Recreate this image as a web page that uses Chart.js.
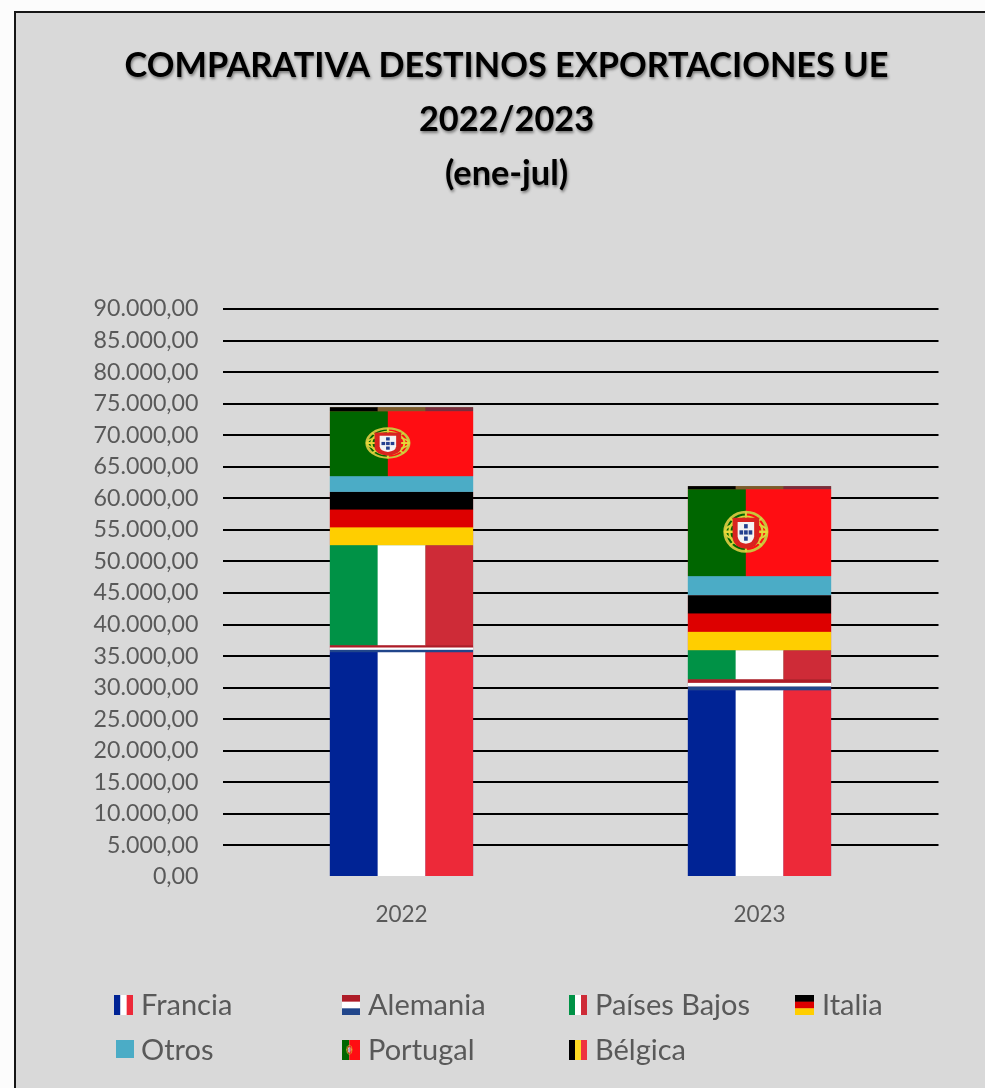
<!DOCTYPE html>
<html><head><meta charset="utf-8">
<style>
html,body{margin:0;padding:0;background:#fcfcfc;overflow:hidden;width:985px;height:1088px}
#frame{position:absolute;left:14px;top:11px;width:1100px;height:1200px;border:2px solid #161616;background:#d9d9d9}
canvas{position:absolute;left:15px;top:13px;filter:blur(0.35px)}
</style>
<script src="https://cdn.jsdelivr.net/npm/chart.js@4"></script>
</head><body><div id="frame"></div><canvas id="c" width="983" height="1075"></canvas>
<script>
const categories = ['2022', '2023'];
const francia = [35630, 29600];
const alemania = [1100, 1740];
const paisesBajos = [15850, 4600];
const italia = [8450, 8710];
const otros = [2480, 3020];
const portugal = [10300, 13780];
const belgica = [620, 480];
const seriesNames = ['Francia', 'Alemania', 'Países Bajos', 'Italia', 'Otros', 'Portugal', 'Bélgica'];
const seriesValues = [francia, alemania, paisesBajos, italia, otros, portugal, belgica];
const seriesFlags = ['fr', 'nl', 'it', 'de', 'solid', 'pt', 'be'];
const baseColors = ['#002395', '#ae1c28', '#009246', '#dd0000', '#4bacc6', '#ff0d12', '#7b5b2b'];
const titleLines = ['COMPARATIVA DESTINOS EXPORTACIONES UE', '2022/2023', '(ene-jul)'];
const FONT = 'Lato, sans-serif';
const fmt = v => v.toLocaleString('es-ES', {minimumFractionDigits: 2, maximumFractionDigits: 2, useGrouping: true}).replace(/^(\d)(\d{3}),/, '$1.$2,');

function vStripes(ctx, x, y, w, h, cols) {
  const n = cols.length;
  cols.forEach((c, i) => { ctx.fillStyle = c; ctx.fillRect(x + w * i / n, y, w / n + (i < n - 1 ? .3 : 0), h); });
}
function hStripes(ctx, x, y, w, h, cols) {
  const n = cols.length;
  cols.forEach((c, i) => { ctx.fillStyle = c; ctx.fillRect(x, y + h * i / n, w, h / n + (i < n - 1 ? .3 : 0)); });
}
function emblem(ctx, cx, cy, rx, ry) {
  ctx.save();
  ctx.translate(cx, cy); ctx.scale(rx, ry);
  ctx.lineWidth = 0.13; ctx.strokeStyle = '#c9c23c';
  ctx.beginPath(); ctx.arc(0, 0, 0.92, 0, 7); ctx.stroke();
  ctx.lineWidth = 0.09; ctx.strokeStyle = '#dcd33a';
  ctx.beginPath(); ctx.ellipse(0, 0, 0.92, 0.42, 0, 0, 7); ctx.stroke();
  ctx.beginPath(); ctx.ellipse(0, 0, 0.72, 0.72, 0, 0, 7); ctx.stroke();
  ctx.beginPath(); ctx.moveTo(0,-0.95); ctx.lineTo(0,0.95); ctx.moveTo(-0.7,-0.65); ctx.lineTo(0.7,0.65); ctx.moveTo(0.7,-0.65); ctx.lineTo(-0.7,0.65); ctx.stroke();
  ctx.fillStyle = '#e8d838';
  ctx.fillRect(-0.95, -0.06, 1.9, 0.12);
  ctx.fillStyle = '#d8231f';
  ctx.beginPath(); ctx.moveTo(-.58,-.66); ctx.lineTo(.58,-.66); ctx.lineTo(.58,.3); ctx.quadraticCurveTo(.52,.74,0,.8); ctx.quadraticCurveTo(-.52,.74,-.58,.3); ctx.closePath(); ctx.fill();
  ctx.fillStyle = '#f4f4f4';
  ctx.beginPath(); ctx.moveTo(-.36,-.46); ctx.lineTo(.36,-.46); ctx.lineTo(.36,.22); ctx.quadraticCurveTo(.33,.52,0,.56); ctx.quadraticCurveTo(-.33,.52,-.36,.22); ctx.closePath(); ctx.fill();
  ctx.fillStyle = '#24408e';
  [[0,-.26],[-.2,.03],[0,.03],[.2,.03],[0,.32]].forEach(p => { ctx.fillRect(p[0]-.08, p[1]-.1, .16, .2); });
  ctx.restore();
}
function drawFlag(ctx, kind, x, y, w, h) {
  if (kind === 'fr') vStripes(ctx, x, y, w, h, ['#002395', '#ffffff', '#ed2939']);
  else if (kind === 'it') vStripes(ctx, x, y, w, h, ['#009246', '#ffffff', '#ce2b37']);
  else if (kind === 'be') vStripes(ctx, x, y, w, h, h < 6 ? ['#000000', '#7b5b2b', '#7a2d3d'] : ['#000000', '#fdda24', '#ef3340']);
  else if (kind === 'nl') hStripes(ctx, x, y, w, h, ['#ae1c28', '#ffffff', '#21468b']);
  else if (kind === 'de') hStripes(ctx, x, y, w, h, ['#000000', '#dd0000', '#ffce00']);
  else if (kind === 'pt') {
    const split = 0.405;
    ctx.fillStyle = '#006600'; ctx.fillRect(x, y, w * split, h);
    ctx.fillStyle = '#ff0d12'; ctx.fillRect(x + w * split, y, w * (1 - split), h);
    emblem(ctx, x + w * split, y + h * 0.49, w * 0.16, h * 0.245);
  } else { ctx.fillStyle = '#4bacc6'; ctx.fillRect(x, y, w, h); }
}
const flagBars = {
  id: 'flagBars',
  afterDatasetsDraw(chart) {
    const ctx = chart.ctx;
    chart.data.datasets.forEach((ds, i) => {
      chart.getDatasetMeta(i).data.forEach(el => {
        const p = el.getProps(['x', 'y', 'base', 'width'], true);
        drawFlag(ctx, seriesFlags[i], p.x - p.width / 2, p.y, p.width, p.base - p.y);
      });
    });
  }
};
const legendRows = [[0, 1, 2, 3], [4, 5, 6]];
const legendCols = [100, 327, 554, 781];
const legendY = [992, 1037];
const flatLegend = {
  id: 'flatLegend',
  afterDraw(chart) {
    const ctx = chart.ctx;
    ctx.save();
    ctx.font = '29px ' + FONT;
    ctx.textBaseline = 'middle';
    legendRows.forEach((row, r) => row.forEach((s, c) => {
      const x = legendCols[c], cy = legendY[r];
      const f = seriesFlags[s];
      const big = (f === 'fr' || f === 'de');
      drawFlag(ctx, f, x - (big ? 1 : 0) + (f === 'solid' ? 1 : 0), cy - 10, big ? 19 : 18, f === 'solid' ? 18 : 20);
      ctx.fillStyle = '#595959';
      ctx.fillText(seriesNames[s], x + 26, cy + 1);
    }));
    ctx.restore();
  }
};
const titleShadow = {
  id: 'titleShadow',
  beforeDraw(chart) {
    const t = chart.titleBlock;
    if (t && !t.__wrapped) {
      const d = t.draw;
      t.draw = function () {
        const ctx = chart.ctx; ctx.save();
        ctx.translate(29.75, 0);
        ctx.shadowColor = 'rgba(0,0,0,0.45)'; ctx.shadowBlur = 3; ctx.shadowOffsetX = 1; ctx.shadowOffsetY = 2;
        d.call(t); ctx.restore();
      };
      t.__wrapped = true;
    }
  }
};
new Chart(document.getElementById('c'), {
  type: 'bar',
  data: {
    labels: categories,
    datasets: seriesNames.map((n, i) => ({
      label: n, data: seriesValues[i], backgroundColor: baseColors[i], borderWidth: 0,
      categoryPercentage: 1, barPercentage: 0.4
    }))
  },
  plugins: [flagBars, flatLegend, titleShadow],
  options: {
    responsive: false, animation: false,
    layout: {padding: {left: 0, right: 59.5, top: 0, bottom: 0}},
    plugins: {
      legend: {display: false},
      tooltip: {enabled: false},
      title: {
        display: true, text: titleLines, color: '#000',
        font: {family: FONT, size: 34.3, weight: 'bold', lineHeight: 54 / 34.3},
        padding: {top: 26, bottom: 108}
      }
    },
    scales: {
      x: {
        stacked: true,
        grid: {display: false}, border: {display: false},
        ticks: {color: '#595959', font: {family: FONT, size: 22.5}, padding: 16},
        afterFit(s) { s.height = 211; }
      },
      y: {
        stacked: true, min: 0, max: 90000,
        border: {display: false},
        grid: {color: c => c.tick.value === 0 ? 'rgba(0,0,0,0)' : '#000', lineWidth: 2, drawTicks: false},
        ticks: {stepSize: 5000, color: '#595959', font: {family: FONT, size: 23.2}, padding: 24, callback: v => fmt(v)},
        afterFit(s) { s.width = 207.5; }
      }
    }
  }
});
</script></body></html>
